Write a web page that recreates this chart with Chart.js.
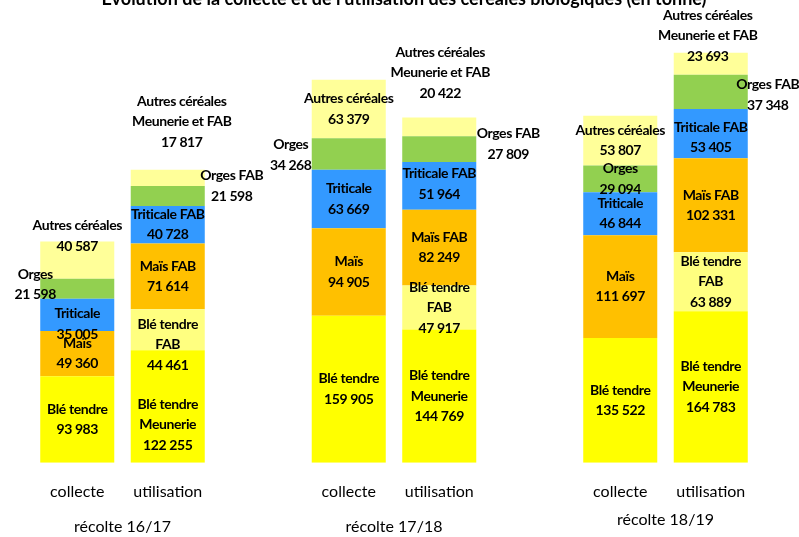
<!DOCTYPE html>
<html>
<head>
<meta charset="utf-8">
<title>Collecte et utilisation des céréales bio</title>
<script src="https://cdn.jsdelivr.net/npm/chart.js@4.4.1/dist/chart.umd.min.js"></script>
<style>
  body { margin: 0; background: #fff; }
  #wrap { width: 799px; height: 537px; position: relative; }
</style>
</head>
<body>
<div id="wrap"><canvas id="canvas"></canvas></div>
<script>
//****DATA****//

var titleText = 'Évolution de la collecte et de l\u2019utilisation des céréales biologiques (en tonne)';

// empty slots between the harvests keep the groups apart
var categories = ['collecte', 'utilisation', '', 'collecte', 'utilisation', '', 'collecte', 'utilisation'];
var harvests = ['récolte 16/17', 'récolte 17/18', 'récolte 18/19'];

var bleTendre = [93983, 122255, null, 159905, 144769, null, 135522, 164783];
var bleFab = [null, 44461, null, null, 47917, null, null, 63889];
var mais = [49360, 71614, null, 94905, 82249, null, 111697, 102331];
var triticale = [35005, 40728, null, 63669, 51964, null, 46844, 53405];
var orges = [21598, 21598, null, 34268, 27809, null, 29094, 37348];
var autres = [40587, 17817, null, 63379, 20422, null, 53807, 23693];

// label names: [collecte, utilisation]
var collecteNames = [['Blé tendre'], null, ['Maïs'], ['Triticale'], ['Orges'], ['Autres céréales']];
var utilNames = [['Blé tendre', 'Meunerie'], ['Blé tendre', 'FAB'], ['Maïs FAB'], ['Triticale FAB'], ['Orges FAB'], ['Autres céréales', 'Meunerie et FAB']];

var colors = ['#FFFF00', '#FFFF80', '#FFC000', '#3399FF', '#92D050', '#FFFF99'];

var yMax = 492000;

//****LABEL PLACEMENT****//

// "dataset-category" : [dx, dy] moves from the middle of the segment
var labelShift = {
  '3-0': [0, 9], '4-0': [-42, -4], '5-0': [0, -24],
  '0-1': [0, 18], '1-1': [0, 15], '4-1': [64, -10], '5-1': [14, -56],
  '4-3': [-58, 1],
  '3-4': [0, -2], '4-4': [69, -5], '5-4': [1, -54],
  '3-7': [0, 4], '4-7': [57, 3], '5-7': [-3, -28]
};

function fmt(v) {
  return String(v).replace(/\B(?=(\d{3})+(?!\d))/g, ' ');
}

var labelPlugin = {
  id: 'segLabels',
  afterDatasetsDraw: function (chart) {
    var ctx = chart.ctx;
    ctx.save();
    ctx.font = 'bold 14px Lato';
    ctx.letterSpacing = '-0.4px';
    ctx.fillStyle = '#000';
    ctx.textAlign = 'center';
    ctx.textBaseline = 'middle';
    chart.data.datasets.forEach(function (ds, di) {
      var meta = chart.getDatasetMeta(di);
      meta.data.forEach(function (bar, ci) {
        var v = ds.data[ci];
        if (v === null) return;
        var names = (ci % 3 === 0) ? collecteNames[di] : utilNames[di];
        var lines = names.concat([fmt(v)]);
        var shift = labelShift[di + '-' + ci] || [0, 0];
        var cx = bar.x + shift[0];
        var cy = (bar.y + bar.base) / 2 + shift[1];
        var lh = 20.5;
        var y0 = cy - (lines.length - 1) * lh / 2;
        lines.forEach(function (t, k) {
          ctx.fillText(t, cx, y0 + k * lh);
        });
      });
    });
    ctx.restore();
  },
  afterDraw: function (chart) {
    var ctx = chart.ctx;
    var x = chart.scales.x;
    ctx.save();
    ctx.fillStyle = '#000';
    ctx.textAlign = 'center';
    ctx.textBaseline = 'alphabetic';
    ctx.font = 'bold 18px Lato';
    ctx.fillText(titleText, 404, 5);
    ctx.font = '16px Lato';
    ctx.textBaseline = 'middle';
    harvests.forEach(function (h, g) {
      var mid = (x.getPixelForValue(g * 3) + x.getPixelForValue(g * 3 + 1)) / 2;
      ctx.fillText(h, mid, g === 2 ? 520 : 527);
    });
    ctx.restore();
  }
};

//****CHART****//

function makeDataset(label, data, color) {
  return {
    label: label,
    data: data,
    backgroundColor: color,
    borderWidth: 0,
    barPercentage: 0.818,
    categoryPercentage: 1
  };
}

var ctx = document.getElementById('canvas').getContext('2d');

var chart = new Chart(ctx, {
  type: 'bar',
  data: {
    labels: categories,
    datasets: [
      makeDataset('Blé tendre', bleTendre, colors[0]),
      makeDataset('Blé tendre FAB', bleFab, colors[1]),
      makeDataset('Maïs', mais, colors[2]),
      makeDataset('Triticale', triticale, colors[3]),
      makeDataset('Orges', orges, colors[4]),
      makeDataset('Autres céréales', autres, colors[5])
    ]
  },
  options: {
    responsive: true,
    maintainAspectRatio: false,
    animation: false,
    layout: { padding: { top: 10, bottom: 17, left: 32, right: 43 } },
    plugins: {
      legend: { display: false },
      tooltip: { enabled: false }
    },
    scales: {
      x: {
        stacked: true,
        grid: { display: false, drawTicks: false },
        border: { display: false },
        ticks: {
          color: '#000',
          font: { family: 'Lato', size: 16 },
          padding: 19,
          maxRotation: 0,
          autoSkip: false
        }
      },
      y: {
        stacked: true,
        display: false,
        min: 0,
        max: yMax
      }
    }
  },
  plugins: [labelPlugin]
});
</script>
</body>
</html>
